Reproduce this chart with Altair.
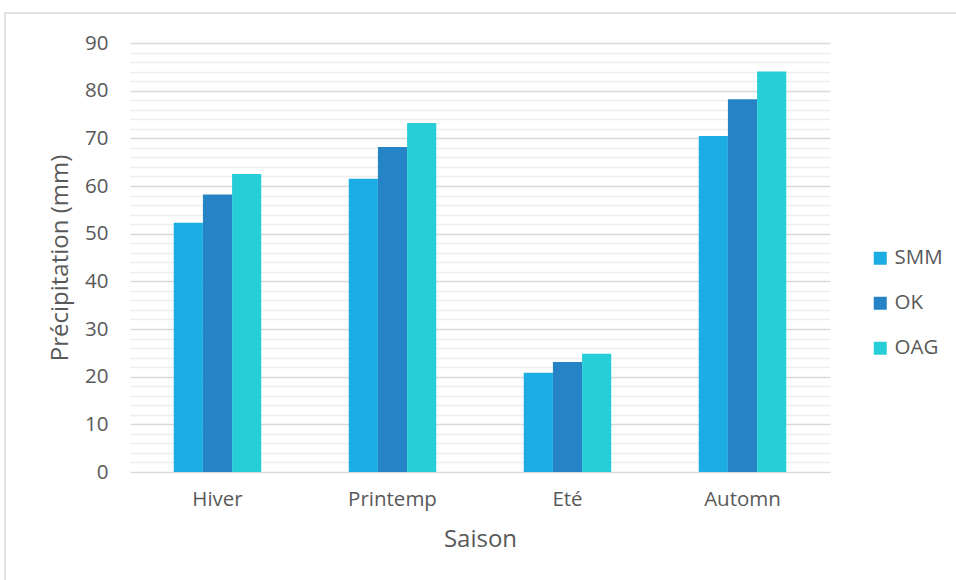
import altair as alt
import pandas as pd

# Seasonal precipitation (mm) for three data sources
seasons = ["Hiver", "Printemp", "Eté", "Automn"]
series = ["SMM", "OK", "OAG"]
smm = [52.3, 61.5, 20.8, 70.5]
ok = [58.2, 68.2, 23.1, 78.2]
oag = [62.5, 73.2, 24.8, 84.0]
colors = ["#1CADE4", "#2683C6", "#27CED7"]
y_ticks = list(range(0, 91, 2))

rows = []
for name, vals in zip(series, [smm, ok, oag]):
    for s, v in zip(seasons, vals):
        rows.append({"Saison": s, "Série": name, "Précipitation": v})
df = pd.DataFrame(rows)

FONT = "Open Sans"
TXT = "#595959"

bars = alt.Chart(df).mark_bar().encode(
    x=alt.X(
        "Saison:N",
        sort=seasons,
        scale=alt.Scale(paddingInner=0.5, paddingOuter=0.25),
        axis=alt.Axis(
            title="Saison", labelAngle=0, ticks=False, domain=False,
            labelPadding=17, labelFontSize=20.5, labelColor=TXT, labelFont=FONT,
            titleFontSize=24, titleFontWeight="normal", titleColor=TXT,
            titleFont=FONT, titlePadding=18,
        ),
    ),
    xOffset=alt.XOffset("Série:N", sort=series, scale=alt.Scale(paddingInner=0, paddingOuter=0)),
    y=alt.Y(
        "Précipitation:Q",
        scale=alt.Scale(domain=[0, 90], nice=False),
        axis=alt.Axis(
            title="Précipitation (mm)", values=y_ticks, ticks=False, domain=False,
            labelExpr="datum.value % 10 === 0 ? datum.label : ''",
            labelPadding=22, labelFontSize=20.5, labelColor=TXT, labelFont=FONT,
            titleFontSize=24, titleFontWeight="normal", titleColor=TXT,
            titleFont=FONT, titlePadding=12,
            grid=True, gridWidth=1.5,
            gridColor={"condition": {"test": "datum.value % 10 === 0", "value": "#d9d9d9"},
                       "value": "#eeeeee"},
        ),
    ),
    color=alt.Color(
        "Série:N", sort=series,
        scale=alt.Scale(domain=series, range=colors),
        legend=alt.Legend(
            title=None, orient="none", legendX=740, legendY=205,
            symbolType="square", symbolSize=169, symbolStrokeWidth=0,
            labelFontSize=20.5, labelColor=TXT, labelFont=FONT, labelOffset=4,
            rowPadding=24, padding=0,
        ),
    ),
)

# Light frame around the chart
frame = alt.Chart(pd.DataFrame({"k": [0]})).mark_rect(
    fill=None, stroke="#d9d9d9", strokeWidth=1.5
).encode(
    x=alt.value(-125), x2=alt.value(840), y=alt.value(-30), y2=alt.value(560)
)

chart = alt.layer(frame, bars).properties(
    width=700, height=429,
    padding={"left": 130, "top": 43, "right": 126, "bottom": 108},
    autosize=alt.AutoSizeParams(type="none"),
    background="white",
).configure_view(stroke=None)

chart.save("out.html", embed_options={"renderer": "svg", "actions": False})
